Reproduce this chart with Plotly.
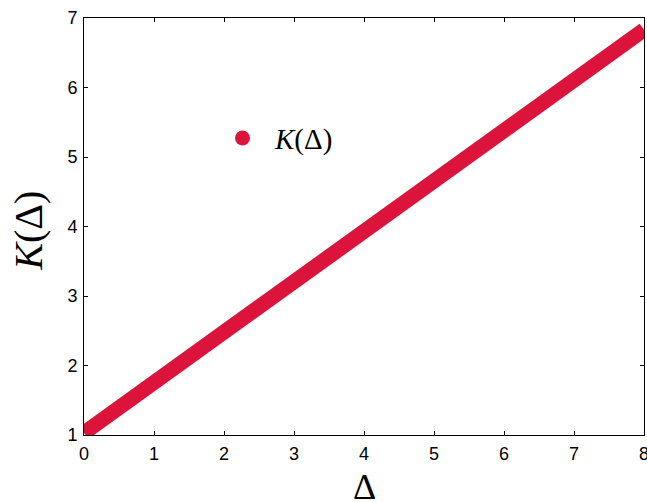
import plotly.graph_objects as go

# K(Delta) at integer Delta
delta = [0, 1, 2, 3, 4, 5, 6, 7, 8]
k_vals = [1.03, 1.75, 2.48, 3.21, 3.93, 4.66, 5.38, 6.11, 6.83]

x_ticks = [0, 1, 2, 3, 4, 5, 6, 7, 8]
y_ticks = [1, 2, 3, 4, 5, 6, 7]

red = "#DC143C"
serif = "Liberation Serif"
sans = "Liberation Sans"

fig = go.Figure()

fig.add_trace(go.Scatter(
    x=delta, y=k_vals,
    mode="lines",
    line=dict(color=red, width=15),
    showlegend=False,
))

# legend entry drawn as a dot, like the original
fig.add_trace(go.Scatter(
    x=[None], y=[None],
    mode="markers",
    marker=dict(color=red, size=15),
    name="<i>K</i>(Δ)",
))

axis_common = dict(
    showline=True, linecolor="black", linewidth=1,
    mirror="ticks", ticks="inside", ticklen=4, tickcolor="black",
    showgrid=False, zeroline=False, automargin=False,
    ticklabeloverflow="allow",
    tickfont=dict(family=sans, size=18, color="black"),
)

fig.update_xaxes(range=[0, 8], tickvals=x_ticks, ticklabelstandoff=2, **axis_common)
fig.update_yaxes(range=[1, 7], tickvals=y_ticks, ticklabelstandoff=2, **axis_common)

# axis titles as annotations so they sit where the reference has them
fig.add_annotation(
    text="Δ", xref="paper", yref="paper", x=0.5, y=-0.178,
    xanchor="center", yanchor="bottom", showarrow=False,
    font=dict(family=serif, size=36, color="black"),
)
fig.add_annotation(
    text="<i>K</i>(Δ)", xref="paper", yref="paper", x=-0.098, y=0.49,
    xanchor="center", yanchor="middle", textangle=-90, showarrow=False,
    font=dict(family=serif, size=40, color="black"),
)

fig.update_layout(
    width=647, height=502,
    margin=dict(l=84, r=3, t=18, b=67),
    plot_bgcolor="white",
    paper_bgcolor="white",
    legend=dict(
        x=0.225, y=0.712, xanchor="left", yanchor="middle",
        font=dict(family=serif, size=29, color="black"),
        bgcolor="rgba(0,0,0,0)",
        itemwidth=55,
    ),
)

# drop the default body margin so the figure fills the window
fig.write_html(
    "out.html",
    config={"displayModeBar": False},
    post_script="document.body.style.margin = '0';",
)
